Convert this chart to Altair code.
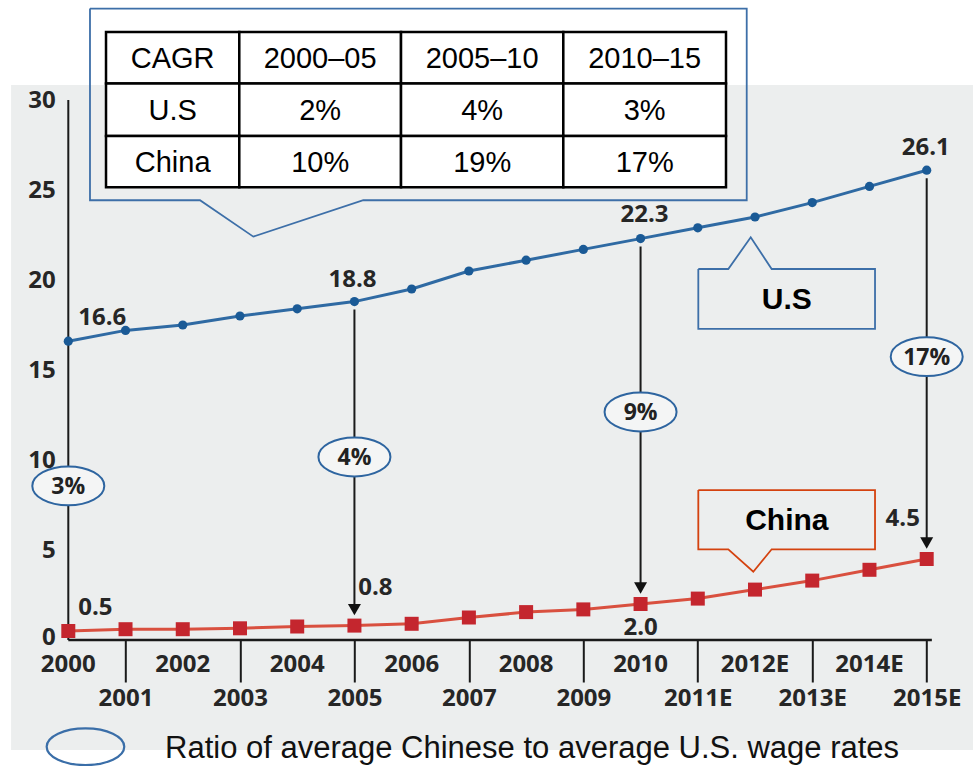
import altair as alt
import pandas as pd

# ---------------- data ----------------
years = ["2000", "2001", "2002", "2003", "2004", "2005", "2006", "2007",
         "2008", "2009", "2010", "2011E", "2012E", "2013E", "2014E", "2015E"]
us_wage = [16.6, 17.2, 17.5, 18.0, 18.4, 18.8, 19.5, 20.5,
           21.1, 21.7, 22.3, 22.9, 23.5, 24.3, 25.2, 26.1]
china_wage = [0.5, 0.6, 0.6, 0.65, 0.75, 0.8, 0.9, 1.25,
              1.55, 1.7, 2.0, 2.3, 2.8, 3.3, 3.9, 4.5]
label_idx = [0, 5, 10, 15]
us_labels = ["16.6", "18.8", "22.3", "26.1"]
china_labels = ["0.5", "0.8", "2.0", "4.5"]
ratio_labels = ["3%", "4%", "9%", "17%"]
cagr_header = ["CAGR", "2000–05", "2005–10", "2010–15"]
cagr_series = ["U.S", "China"]
us_cagr = ["2%", "4%", "3%"]
china_cagr = ["10%", "19%", "17%"]
legend_text = "Ratio of average Chinese to average U.S. wage rates"

# ---------------- layout (data units of the chart scales) ----------------
PX_PER_UNIT = 18.0           # y pixels per wage unit (540 / 30)
ratio_y = [8.56, 10.17, 12.67, 15.74]
us_off = [(34, -23), (-2, -22), (4, -24), (-1, -22)]
china_off = [(27, -23), (21, -38), (0, 24), (-24, -40)]
tbl_cols = [0.659, 2.988, 5.814, 8.650, 11.493]
tbl_rows = [33.78, 30.92, 28.0, 25.15]
table_box = [(0.379, 35.08), (11.855, 35.08), (11.855, 24.43), (5.155, 24.43),
             (3.233, 22.41), (2.301, 24.43), (0.379, 24.43), (0.379, 35.08)]
us_box = [(11.009, 20.61), (11.533, 20.61), (11.925, 22.37), (12.291, 20.61),
          (14.097, 20.61), (14.097, 17.28), (11.009, 17.28), (11.009, 20.61)]
cn_box = [(11.009, 8.33), (14.097, 8.33), (14.097, 5.04), (12.291, 5.04),
          (11.97, 3.79), (11.533, 5.04), (11.009, 5.04), (11.009, 8.33)]

BLUE = "#2e65a0"
FONT = "Open Sans"
LAB = "#262626"
LW = 700

XSC = alt.Scale(domain=[0, 15], nice=False, zero=False)
YSC = alt.Scale(domain=[0, 30], nice=False, zero=False)


def X(f="x", **kw):
    return alt.X(f"{f}:Q", scale=XSC, **kw)


def Y(f="y", **kw):
    return alt.Y(f"{f}:Q", scale=YSC, **kw)


label_expr = "[" + ",".join(f"'{y}'" for y in years) + "][datum.value]"
x_axis = alt.Axis(values=list(range(1, 16, 2)), labelExpr=label_expr, tickSize=42,
                  tickWidth=2, tickColor="#1a1a1a", domain=False, grid=False,
                  labelPadding=4, labelFont=FONT, labelFontSize=24, labelFontWeight=LW,
                  labelColor=LAB, labelFlush=False, labelOverlap=False, title="", zindex=1)
y_axis = alt.Axis(values=[0, 5, 10, 15, 20, 25, 30], ticks=False, tickSize=0, domain=False,
                  grid=False, labelPadding=13, labelFont=FONT, labelFontSize=24,
                  labelFontWeight=LW, labelColor=LAB, title="", zindex=1,
                  labelOffset=alt.condition("datum.value == 0", alt.value(-3), alt.value(0)))

layers = []

# gray background
bg = pd.DataFrame({"x": [-1.0], "x2": [16.0], "y": [-6.11], "y2": [30.83]})
layers.append(alt.Chart(bg).mark_rect(color="#eceeee").encode(
    x=X(axis=x_axis), x2="x2:Q", y=Y(axis=y_axis), y2="y2:Q"))


def outline(pts, color, width=2):
    df = pd.DataFrame({"x": [p[0] for p in pts], "y": [p[1] for p in pts],
                       "o": list(range(len(pts)))})
    return alt.Chart(df).mark_line(color=color, strokeWidth=width, strokeJoin="miter").encode(
        x=X(), y=Y(), order="o:Q")


# table callout
layers.append(outline(table_box, "#3d6fa8", 1.8))

# table cells
cells = []
table_text = [cagr_header, [cagr_series[0]] + us_cagr, [cagr_series[1]] + china_cagr]
for r in range(3):
    for c in range(4):
        cells.append({"x": tbl_cols[c], "x2": tbl_cols[c + 1], "y": tbl_rows[r],
                      "y2": tbl_rows[r + 1], "cx": (tbl_cols[c] + tbl_cols[c + 1]) / 2,
                      "cy": (tbl_rows[r] + tbl_rows[r + 1]) / 2, "t": table_text[r][c]})
cells = pd.DataFrame(cells)
layers.append(alt.Chart(cells).mark_rect(fill="white", stroke="black", strokeWidth=2.5).encode(
    x=X(), x2="x2:Q", y=Y(), y2="y2:Q"))
layers.append(alt.Chart(cells).mark_text(font="Liberation Sans", fontSize=29, color="black",
                                         baseline="middle", dy=1).encode(
    x=X("cx"), y=Y("cy"), text="t:N"))

# axis lines
axl = pd.DataFrame({"x": [0.0], "x2": [15.09], "y": [0.0], "y2": [30.0]})
layers.append(alt.Chart(axl).mark_rule(color="#1a1a1a", strokeWidth=2.5).encode(
    x=X(), x2="x2:Q", y=Y()))
layers.append(alt.Chart(axl).mark_rule(color="#1a1a1a", strokeWidth=2).encode(
    x=X(), y=Y(), y2="y2:Q"))

# even year labels (upper row)
even = pd.DataFrame({"x": list(range(0, 16, 2)), "t": years[0::2]})
layers.append(alt.Chart(even).mark_text(font=FONT, fontSize=24, fontWeight=LW, color=LAB,
                                        baseline="middle", dy=25).encode(
    x=X(), y=alt.datum(0), text="t:N"))

# arrows
arr_idx = label_idx[1:]
arr = pd.DataFrame({
    "x": arr_idx,
    "y": [us_wage[i] - 8 / PX_PER_UNIT for i in arr_idx],
    "y2": [china_wage[i] + 16 / PX_PER_UNIT for i in arr_idx],
})
layers.append(alt.Chart(arr).mark_rule(color="#1a1a1a", strokeWidth=2).encode(
    x=X(), y=Y(), y2="y2:Q"))
layers.append(alt.Chart(arr).mark_point(shape="triangle-down", filled=True, size=169,
                                        color="#111111", opacity=1).encode(
    x=X(), y=Y("y2")))

# series
series = pd.DataFrame({"x": list(range(16)), "us": us_wage, "cn": china_wage})
layers.append(alt.Chart(series).mark_line(color="#d9503f", strokeWidth=3).encode(
    x=X(), y=Y("cn")))
layers.append(alt.Chart(series).mark_point(shape="square", filled=True, size=196,
                                           color="#c4262e", opacity=1).encode(
    x=X(), y=Y("cn")))
layers.append(alt.Chart(series).mark_line(color="#2f6aa3", strokeWidth=3).encode(
    x=X(), y=Y("us")))
layers.append(alt.Chart(series).mark_point(shape="circle", filled=True, size=85,
                                           color="#1a5a96", opacity=1).encode(
    x=X(), y=Y("us")))

# ratio ellipses
k = 0.5523


def ellipse_path(ry):
    return (f"M1,0 C1,{ry*k:.4f} {k},{ry} 0,{ry} C{-k},{ry} -1,{ry*k:.4f} -1,0 "
            f"C-1,{-ry*k:.4f} {-k},{-ry} 0,{-ry} C{k},{-ry} 1,{-ry*k:.4f} 1,0 Z")


rat = pd.DataFrame({"x": label_idx, "y": ratio_y, "t": ratio_labels})
layers.append(alt.Chart(rat).mark_point(shape=ellipse_path(0.54), size=5184, filled=True,
                                        fill="#f4f5f5", stroke=BLUE, strokeWidth=2,
                                        opacity=1).encode(x=X(), y=Y()))
layers.append(alt.Chart(rat).mark_text(font=FONT, fontSize=23, fontWeight=700, color="#222222",
                                       baseline="middle", dy=1).encode(
    x=X(), y=Y(), text="t:N"))

# value labels
for i, idx in enumerate(label_idx):
    d = pd.DataFrame({"x": [idx], "y": [us_wage[idx]], "t": [us_labels[i]]})
    layers.append(alt.Chart(d).mark_text(font=FONT, fontSize=24, fontWeight=LW, color=LAB,
                                         baseline="middle", dx=us_off[i][0],
                                         dy=us_off[i][1]).encode(x=X(), y=Y(), text="t:N"))
    d = pd.DataFrame({"x": [idx], "y": [china_wage[idx]], "t": [china_labels[i]]})
    layers.append(alt.Chart(d).mark_text(font=FONT, fontSize=24, fontWeight=LW, color=LAB,
                                         baseline="middle", dx=china_off[i][0],
                                         dy=china_off[i][1]).encode(x=X(), y=Y(), text="t:N"))

# series callouts
layers.append(outline(us_box, "#3d6fa8", 1.8))
layers.append(outline(cn_box, "#d4420f", 1.8))
callout_txt = pd.DataFrame({"x": [12.556, 12.556], "y": [18.94, 6.67], "t": cagr_series})
layers.append(alt.Chart(callout_txt).mark_text(font="Liberation Sans", fontSize=30,
                                               fontWeight="bold", color="black",
                                               baseline="middle", dy=1).encode(
    x=X(), y=Y(), text="t:N"))

# legend
leg = pd.DataFrame({"x": [0.30], "y": [-5.93], "tx": [1.69], "ty": [-6.0], "t": [legend_text]})
layers.append(alt.Chart(leg).mark_point(shape=ellipse_path(0.473), size=6022, filled=False,
                                        stroke="#3a6ea8", strokeWidth=2.2, opacity=1).encode(
    x=X(), y=Y()))
layers.append(alt.Chart(leg).mark_text(font="Liberation Sans", fontSize=31, color="#111111",
                                       align="left", baseline="middle", dy=1).encode(
    x=X("tx"), y=Y("ty"), text="t:N"))

chart = alt.layer(*layers).properties(
    width=858.4, height=540,
    padding={"left": 68.3, "top": 100, "right": 46.3, "bottom": 126},
    autosize=alt.AutoSizeParams(type="none"),
).configure_view(strokeWidth=0)

chart.save("out.html", embed_options={"renderer": "svg", "actions": False})
